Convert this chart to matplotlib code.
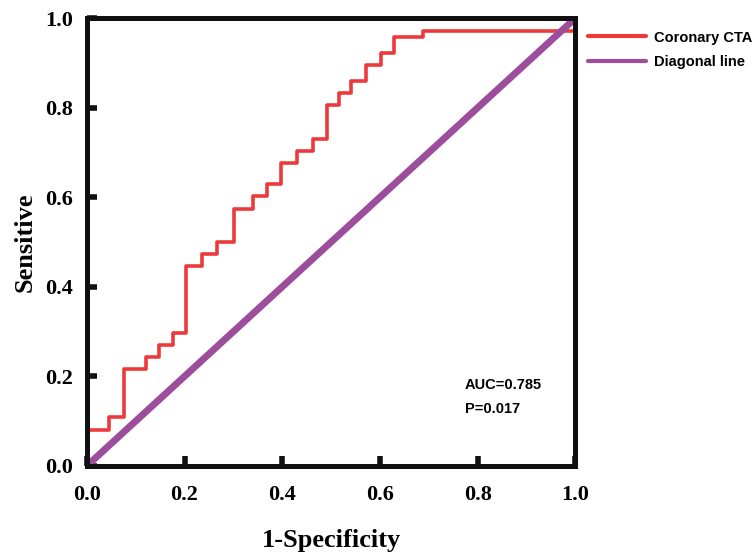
import matplotlib
matplotlib.use('Agg')
import matplotlib.pyplot as plt

# ROC curve of coronary CTA (step points)
fpr = [0.0, 0.046, 0.046, 0.077, 0.077, 0.121, 0.121, 0.148, 0.148, 0.177, 0.177,
       0.203, 0.203, 0.235, 0.235, 0.266, 0.266, 0.302, 0.302, 0.340, 0.340,
       0.369, 0.369, 0.398, 0.398, 0.431, 0.431, 0.463, 0.463, 0.491, 0.491,
       0.516, 0.516, 0.540, 0.540, 0.571, 0.571, 0.603, 0.603, 0.628, 0.628,
       0.689, 0.689, 1.0, 1.0]
tpr = [0.080, 0.080, 0.110, 0.110, 0.216, 0.216, 0.243, 0.243, 0.270, 0.270, 0.297,
       0.297, 0.446, 0.446, 0.473, 0.473, 0.500, 0.500, 0.573, 0.573, 0.603,
       0.603, 0.629, 0.629, 0.677, 0.677, 0.703, 0.703, 0.730, 0.730, 0.806,
       0.806, 0.833, 0.833, 0.860, 0.860, 0.895, 0.895, 0.922, 0.922, 0.957,
       0.957, 0.972, 0.972, 1.0]
diag = [0.0, 1.0]
auc_text = 'AUC=0.785'
p_text = 'P=0.017'
ticks = [0.0, 0.2, 0.4, 0.6, 0.8, 1.0]
tick_labels = ['0.0', '0.2', '0.4', '0.6', '0.8', '1.0']

fig = plt.figure(figsize=(7.55, 5.52), dpi=100)
ax = fig.add_axes([0.115, 0.156, 0.647, 0.811])

ax.plot(fpr, tpr, color='#EC3A3C', lw=2.6, label='Coronary CTA', zorder=3)
ax.plot(diag, diag, color='#9C4D9B', lw=5, solid_capstyle='round',
        label='Diagonal line', zorder=4)

ax.set_xlim(0, 1)
ax.set_ylim(0, 1)
ax.set_xticks(ticks)
ax.set_yticks(ticks)
serif = {'family': 'Liberation Serif', 'weight': 'bold'}
ax.set_xticklabels(tick_labels, fontdict=serif, fontsize=16)
ax.set_yticklabels(tick_labels, fontdict=serif, fontsize=16)
ax.tick_params(direction='in', length=7, width=4, color='#111111', pad=10)
ax.tick_params(axis='x', pad=14)
for s in ax.spines.values():
    s.set_linewidth(3.6)
    s.set_color('#111111')
    s.set_zorder(5)

ax.set_xlabel('1-Specificity', fontdict=serif, fontsize=19, labelpad=17)
ax.set_ylabel('Sensitive', fontdict=serif, fontsize=19, labelpad=6)

sans = {'family': 'Liberation Sans', 'weight': 'bold', 'size': 10.5}
ax.text(0.774, 0.180, auc_text, fontdict=sans, va='center', transform=ax.transAxes)
ax.text(0.774, 0.128, p_text, fontdict=sans, va='center', transform=ax.transAxes)

leg = ax.legend(loc='upper left', bbox_to_anchor=(1.008, 0.992), frameon=False,
                prop=sans, handlelength=4.0, handletextpad=0.55, labelspacing=0.75,
                borderaxespad=0.0, borderpad=0.6)
for h in leg.get_lines():
    h.set_linewidth(3)
    h.set_solid_capstyle('round')

fig.savefig('out.png', dpi=100)
